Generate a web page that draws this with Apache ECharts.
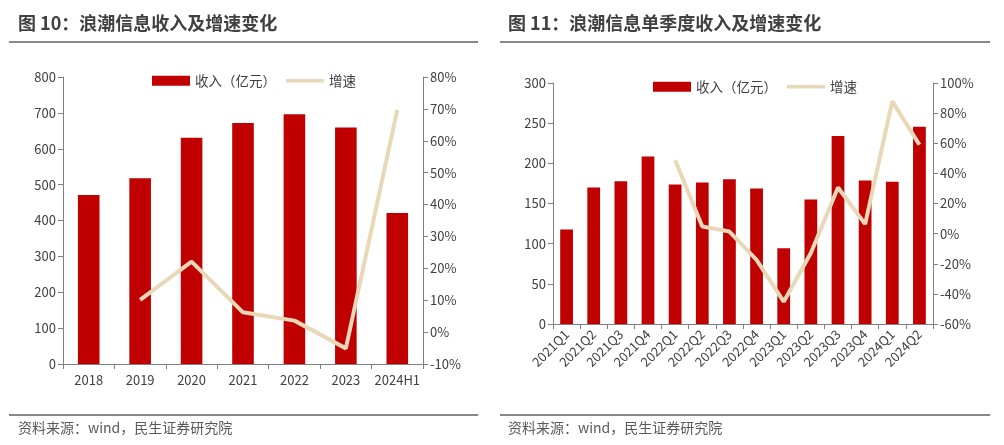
<!DOCTYPE html>
<html><head><meta charset="utf-8">
<script src="https://cdn.jsdelivr.net/npm/echarts@6/dist/echarts.min.js"></script>
<style>html,body{margin:0;padding:0;background:#fff}#c{width:1004px;height:445px}</style>
</head><body><div id="c"></div>
<script>
var yearCats = ['2018','2019','2020','2021','2022','2023','2024H1'];
var yearRevenue = [471, 518, 631, 672, 696, 659, 421];
var yearGrowth = [null, 10.1, 22.1, 6.2, 3.6, -5.1, 69.7];

var quarterCats = ['2021Q1','2021Q2','2021Q3','2021Q4','2022Q1','2022Q2','2022Q3','2022Q4','2023Q1','2023Q2','2023Q3','2023Q4','2024Q1','2024Q2'];
var quarterRevenue = [117.5, 169.9, 177.8, 208.6, 173.7, 176.2, 180.3, 168.7, 94.3, 155.0, 233.9, 178.6, 177.0, 245.5];
var quarterGrowth = [null, null, null, null, 48.8, 4.7, 1.4, -17.4, -45.2, -12.8, 30.6, 6.3, 87.8, 59.0];

var leftTitle = '图 10：浪潮信息收入及增速变化';
var rightTitle = '图 11：浪潮信息单季度收入及增速变化';
var sourceText = '资料来源：wind，民生证券研究院';
var revName = '收入（亿元）';
var growthName = '增速';

var FONT = '"Noto Sans CJK SC", "Noto Sans", sans-serif';
var RED = '#C00000';
var BEIGE = '#E8D8B8';
var AX = '#808080';
var TXT = '#404040';
var LINE_ICON = 'path://M0,0 L38,0 L38,3.5 L0,3.5 Z';

function yAx(gi, min, max, interval, pos, pct) {
  return {
    type: 'value', gridIndex: gi, min: min, max: max, interval: interval, position: pos,
    axisLine: {show: true, lineStyle: {color: AX, width: 1}},
    axisTick: {show: true, length: 5, lineStyle: {color: AX}},
    splitLine: {show: false},
    axisLabel: {color: TXT, fontSize: 13, fontFamily: FONT, margin: 7,
      formatter: pct ? '{value}%' : '{value}'}
  };
}

function legendAt(left, top) {
  return {left: left, top: top, itemWidth: 38, itemHeight: 10, itemGap: 10, padding: 0,
    textStyle: {color: TXT, fontSize: 13.5, fontFamily: FONT},
    data: [{name: revName, icon: 'rect'},
           {name: growthName, icon: LINE_ICON, itemStyle: {color: BEIGE}}]};
}

var chart = echarts.init(document.getElementById('c'), null, {renderer: 'canvas'});
chart.setOption({
  animation: false,
  backgroundColor: '#fff',
  textStyle: {fontFamily: FONT},
  grid: [
    {left: 63, right: 581, top: 77, bottom: 81},
    {left: 553, right: 71, top: 83, bottom: 121}
  ],
  legend: [legendAt(152, 74), legendAt(653, 80)],
  xAxis: [
    {type: 'category', gridIndex: 0, data: yearCats,
      axisLine: {lineStyle: {color: AX}},
      axisTick: {show: true, length: 5, lineStyle: {color: AX}},
      axisLabel: {color: TXT, fontSize: 13, fontFamily: FONT, margin: 10, interval: 0}},
    {type: 'category', gridIndex: 1, data: quarterCats,
      axisLine: {lineStyle: {color: AX}},
      axisTick: {show: true, length: 5, lineStyle: {color: AX}},
      axisLabel: {color: TXT, fontSize: 13, fontFamily: FONT, margin: 8, interval: 0, rotate: 45}}
  ],
  yAxis: [
    yAx(0, 0, 800, 100, 'left', false),
    yAx(0, -10, 80, 10, 'right', true),
    yAx(1, 0, 300, 50, 'left', false),
    yAx(1, -60, 100, 20, 'right', true)
  ],
  series: [
    {name: revName, type: 'bar', xAxisIndex: 0, yAxisIndex: 0, data: yearRevenue,
      barWidth: '42%', itemStyle: {color: RED}},
    {name: growthName, type: 'line', xAxisIndex: 0, yAxisIndex: 1, data: yearGrowth,
      symbol: 'none', lineStyle: {color: BEIGE, width: 4}, itemStyle: {color: BEIGE}},
    {name: revName, type: 'bar', xAxisIndex: 1, yAxisIndex: 2, data: quarterRevenue,
      barWidth: '47%', itemStyle: {color: RED}},
    {name: growthName, type: 'line', xAxisIndex: 1, yAxisIndex: 3, data: quarterGrowth,
      symbol: 'none', lineStyle: {color: BEIGE, width: 4}, itemStyle: {color: BEIGE}}
  ],
  graphic: [
    {type: 'text', left: 18, top: 14, style: {text: leftTitle, fill: '#404040', font: 'bold 18px ' + FONT}},
    {type: 'text', left: 508, top: 14, style: {text: rightTitle, fill: '#404040', font: 'bold 18px ' + FONT}},
    {type: 'line', shape: {x1: 9, y1: 42, x2: 478, y2: 42}, style: {stroke: '#606060', lineWidth: 1.5}},
    {type: 'line', shape: {x1: 500, y1: 42, x2: 990, y2: 42}, style: {stroke: '#606060', lineWidth: 1.5}},
    {type: 'line', shape: {x1: 9, y1: 415, x2: 478, y2: 415}, style: {stroke: '#606060', lineWidth: 1.5}},
    {type: 'line', shape: {x1: 500, y1: 415, x2: 990, y2: 415}, style: {stroke: '#606060', lineWidth: 1.5}},
    {type: 'text', left: 18, top: 421, style: {text: sourceText, fill: '#595959', font: '14px ' + FONT}},
    {type: 'text', left: 508, top: 421, style: {text: sourceText, fill: '#595959', font: '14px ' + FONT}}
  ]
});
</script></body></html>
